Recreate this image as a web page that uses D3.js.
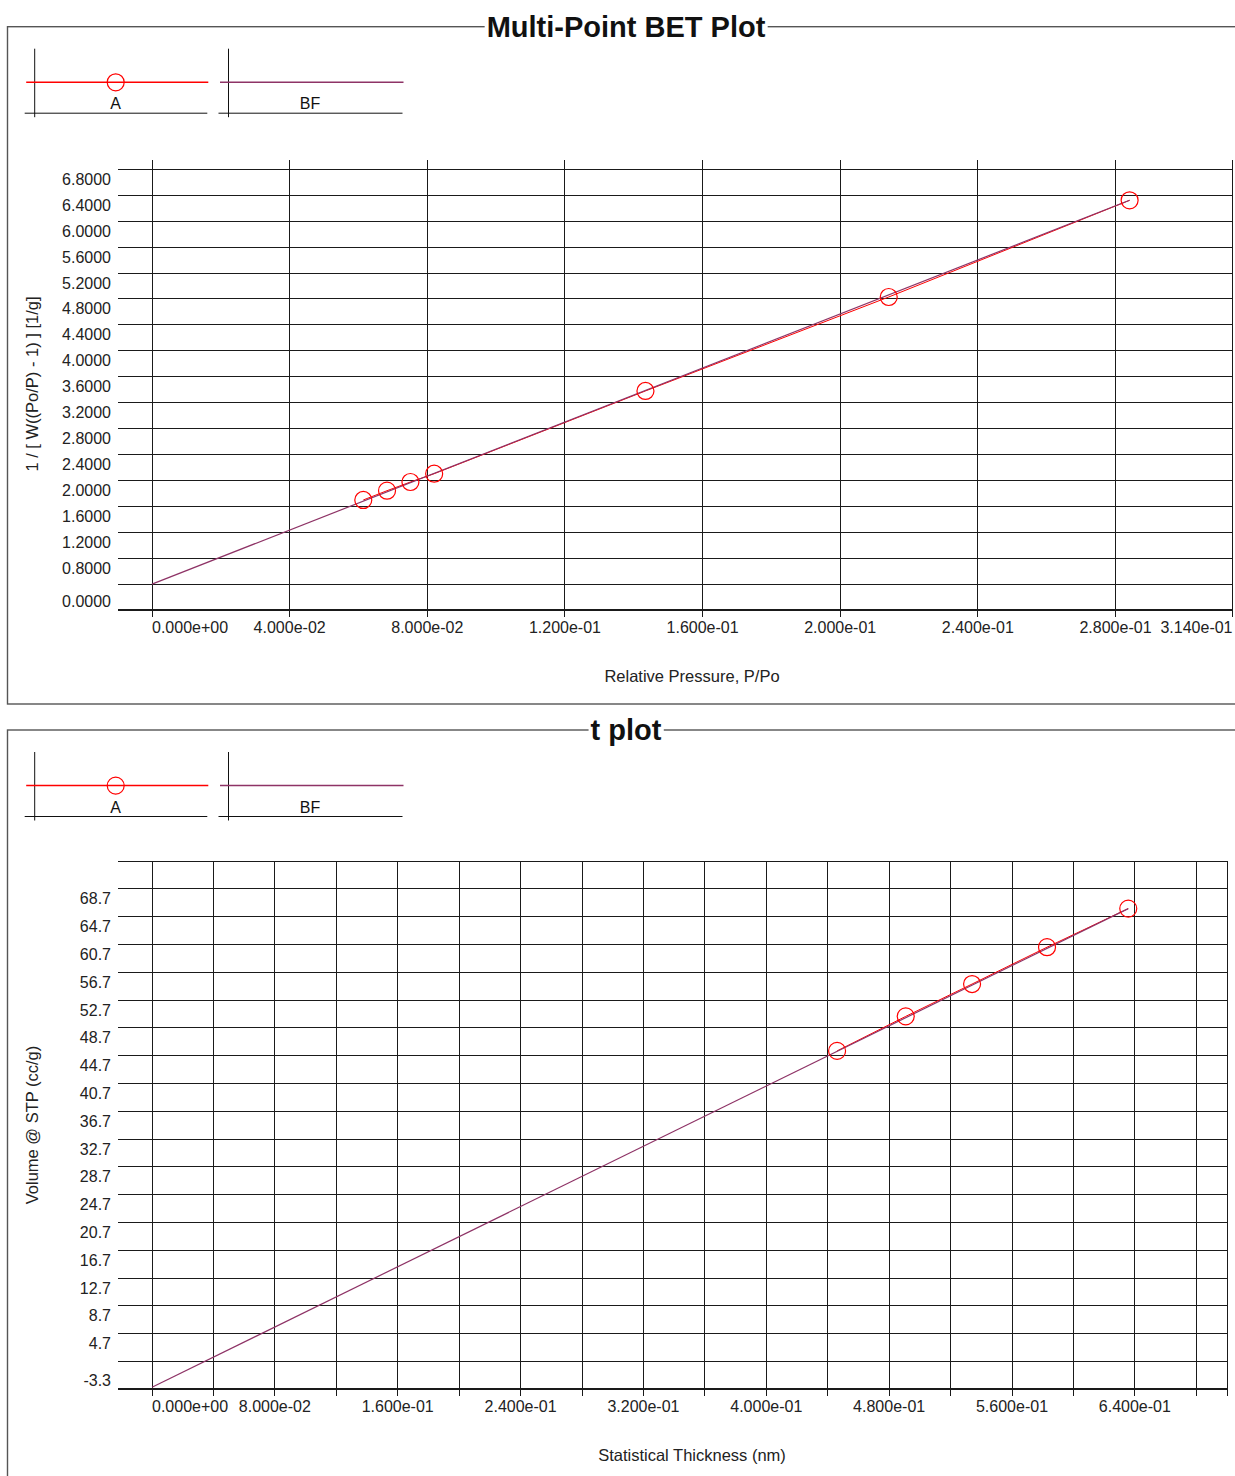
<!DOCTYPE html>
<html>
<head>
<meta charset="utf-8">
<script src="https://cdn.jsdelivr.net/npm/d3@7"></script>
<style>
  html, body { margin: 0; padding: 0; background: #fff; }
  svg { display: block; font-family: "Liberation Sans", Arial, sans-serif; }
</style>
</head>
<body>
<svg id="chart" width="1235" height="1476"></svg>
<script>
// ---- Multi-Point BET data ----
const betPressure  = [0.0614, 0.0683, 0.0751, 0.0820, 0.1434, 0.2141, 0.2841];
const betTransform = [1.698, 1.841, 1.975, 2.103, 3.380, 4.830, 6.322];
const betFitPressure  = [0, 0.2841];
const betFitTransform = [0.400, 6.322];
const betXTicks  = [0, 0.04, 0.08, 0.12, 0.16, 0.20, 0.24, 0.28, 0.314];
const betYGrid   = [0.4, 0.8, 1.2, 1.6, 2.0, 2.4, 2.8, 3.2, 3.6, 4.0, 4.4, 4.8, 5.2, 5.6, 6.0, 6.4, 6.8];
const betYLabels = [0, 0.8, 1.2, 1.6, 2.0, 2.4, 2.8, 3.2, 3.6, 4.0, 4.4, 4.8, 5.2, 5.6, 6.0, 6.4, 6.8];

// ---- t plot data ----
const tThickness = [0.4461, 0.4908, 0.5340, 0.5828, 0.6357];
const tVolume    = [45.38, 50.35, 55.00, 60.30, 65.85];
const tFitThickness = [0, 0.6357];
const tFitVolume    = [-3.0, 65.85];
const tXGrid   = [0, 0.04, 0.08, 0.12, 0.16, 0.20, 0.24, 0.28, 0.32, 0.36, 0.40, 0.44, 0.48, 0.52, 0.56, 0.60, 0.64, 0.68];
const tXLabels = [0, 0.08, 0.16, 0.24, 0.32, 0.40, 0.48, 0.56, 0.64];
const tYGrid   = [0.7, 4.7, 8.7, 12.7, 16.7, 20.7, 24.7, 28.7, 32.7, 36.7, 40.7, 44.7, 48.7, 52.7, 56.7, 60.7, 64.7, 68.7, 72.7];
const tYLabels = [-3.3, 4.7, 8.7, 12.7, 16.7, 20.7, 24.7, 28.7, 32.7, 36.7, 40.7, 44.7, 48.7, 52.7, 56.7, 60.7, 64.7, 68.7];

const legendNames = ["A", "BF"];

const RED = "#ff0000";
const FIT = "#8e3366";
const GRID = "#1a1a1a";

// scientific format with two-digit exponent, e.g. 2.800e-01
function sci(v) {
  const parts = v.toExponential(3).split("e");
  const n = +parts[1];
  return parts[0] + "e" + (n < 0 ? "-" : "+") + String(Math.abs(n)).padStart(2, "0");
}
// fixed decimals with a plain hyphen for negatives
const fixed = digits => v => v.toFixed(digits);

const svg = d3.select("#chart");

function panel(cfg) {
  const g = svg.append("g");
  const x = d3.scaleLinear().domain(cfg.xDomain).range([cfg.left, cfg.right]);
  const y = d3.scaleLinear().domain(cfg.yDomain).range([cfg.bottom, cfg.top]);

  // group frame
  g.append("rect")
    .attr("x", 7.5).attr("y", cfg.frameTop)
    .attr("width", 1260).attr("height", cfg.frameHeight)
    .attr("fill", "none").attr("stroke", "#555").attr("stroke-width", 1.4);

  // title breaking the frame line
  const title = g.append("text")
    .attr("x", 626).attr("y", cfg.frameTop + 10)
    .attr("text-anchor", "middle")
    .attr("font-size", 29).attr("font-weight", "bold").attr("fill", "#111")
    .text(cfg.title);
  const bb = title.node().getBBox();
  g.insert("rect", "text")
    .attr("x", bb.x - 2).attr("y", cfg.frameTop - 4)
    .attr("width", bb.width + 4).attr("height", 8)
    .attr("fill", "#fff");

  // legend
  const ly = cfg.frameTop + 55.6;
  const items = [
    { x0: 24.7, x1: 207.3, vx: 34.7, cx: 115.7, color: RED, marker: true },
    { x0: 218.5, x1: 402.5, vx: 228.5, cx: 310, color: FIT, marker: false }
  ];
  items.forEach((it, i) => {
    g.append("line").attr("x1", it.vx).attr("x2", it.vx)
      .attr("y1", cfg.frameTop + 22).attr("y2", cfg.frameTop + 90.5)
      .attr("stroke", "#111").attr("stroke-width", 1);
    g.append("line").attr("x1", it.x0).attr("x2", it.x1)
      .attr("y1", cfg.frameTop + 86.5).attr("y2", cfg.frameTop + 86.5)
      .attr("stroke", "#111").attr("stroke-width", 1);
    g.append("line").attr("x1", it.x0 + 1.5).attr("x2", it.x1 + 1)
      .attr("y1", ly).attr("y2", ly)
      .attr("stroke", it.color).attr("stroke-width", 1.5);
    if (it.marker) {
      g.append("circle").attr("cx", it.cx).attr("cy", ly).attr("r", 8.5)
        .attr("fill", "none").attr("stroke", RED).attr("stroke-width", 1.2);
    }
    g.append("text").attr("x", it.cx).attr("y", cfg.frameTop + 82.5)
      .attr("text-anchor", "middle").attr("font-size", 16).attr("fill", "#111")
      .text(legendNames[i]);
  });

  // horizontal grid lines (extend left of the plot as ticks)
  const grid = g.append("g").attr("shape-rendering", "crispEdges");
  grid.selectAll("line.h").data(cfg.yGrid).join("line")
    .attr("x1", 117.5).attr("x2", cfg.right)
    .attr("y1", d => y(d)).attr("y2", d => y(d))
    .attr("stroke", GRID).attr("stroke-width", 1);
  // bottom axis line
  grid.append("line")
    .attr("x1", 117.5).attr("x2", cfg.right)
    .attr("y1", cfg.bottom).attr("y2", cfg.bottom)
    .attr("stroke", GRID).attr("stroke-width", cfg.axisWidth);
  // vertical grid lines with ticks under the axis
  grid.selectAll("line.v").data(cfg.xGrid).join("line")
    .attr("x1", d => x(d)).attr("x2", d => x(d))
    .attr("y1", cfg.top).attr("y2", cfg.bottom + 7)
    .attr("stroke", GRID).attr("stroke-width", 1);
  // right edge
  grid.append("line")
    .attr("x1", cfg.right).attr("x2", cfg.right)
    .attr("y1", cfg.top).attr("y2", cfg.bottom + 7)
    .attr("stroke", GRID).attr("stroke-width", 1);

  // y tick labels
  g.selectAll("text.yl").data(cfg.yLabels).join("text")
    .attr("x", 111).attr("text-anchor", "end")
    .attr("y", (d, i) => i === 0 ? y(d) - 3 : y(d) + 15.5)
    .attr("font-size", 16).attr("fill", "#222")
    .text(cfg.yFormat);

  // x tick labels
  g.selectAll("text.xl").data(cfg.xLabels).join("text")
    .attr("x", d => x(d))
    .attr("y", cfg.bottom + 23)
    .attr("text-anchor", (d, i) => i === 0 ? "start" : (d === cfg.xDomain[1] ? "end" : "middle"))
    .attr("font-size", 16).attr("fill", "#222")
    .text(sci);

  // axis titles
  g.append("text")
    .attr("x", 692).attr("y", cfg.bottom + 72)
    .attr("text-anchor", "middle").attr("font-size", 16.5).attr("fill", "#222")
    .text(cfg.xTitle);
  g.append("text")
    .attr("transform", `translate(38,${cfg.yTitleCenter}) rotate(-90)`)
    .attr("text-anchor", "middle").attr("font-size", 16.5).attr("fill", "#222")
    .text(cfg.yTitle);

  // measured series: line through points plus open circles
  const pts = cfg.xs.map((v, i) => [v, cfg.ys[i]]);
  const line = d3.line().x(d => x(d[0])).y(d => y(d[1]));
  g.append("path").datum(pts).attr("d", line)
    .attr("fill", "none").attr("stroke", RED).attr("stroke-width", 1);
  // best-fit line
  const fit = cfg.fitX.map((v, i) => [v, cfg.fitY[i]]);
  g.append("path").datum(fit).attr("d", line)
    .attr("fill", "none").attr("stroke", FIT).attr("stroke-width", 1.2);
  g.selectAll("circle.pt").data(pts).join("circle")
    .attr("cx", d => x(d[0])).attr("cy", d => y(d[1])).attr("r", 8.5)
    .attr("fill", "none").attr("stroke", RED).attr("stroke-width", 1.2);
}

panel({
  title: "Multi-Point BET Plot",
  frameTop: 26.7, frameHeight: 677.3,
  left: 152, right: 1232.5, top: 160, bottom: 610, axisWidth: 1.2,
  xDomain: [0, 0.314], yDomain: [0, 6.944],
  xGrid: betXTicks.slice(0, -1), xLabels: betXTicks,
  yGrid: betYGrid, yLabels: betYLabels, yFormat: fixed(4),
  xs: betPressure, ys: betTransform, fitX: betFitPressure, fitY: betFitTransform,
  xTitle: "Relative Pressure, P/Po",
  yTitle: "1 / [ W((Po/P) - 1) ] [1/g]", yTitleCenter: 384
});

panel({
  title: "t plot",
  frameTop: 730, frameHeight: 800,
  left: 152, right: 1227, top: 861, bottom: 1389.3, axisWidth: 2,
  xDomain: [0, 0.70], yDomain: [-3.3, 72.7],
  xGrid: tXGrid, xLabels: tXLabels,
  yGrid: tYGrid, yLabels: tYLabels, yFormat: fixed(1),
  xs: tThickness, ys: tVolume, fitX: tFitThickness, fitY: tFitVolume,
  xTitle: "Statistical Thickness (nm)",
  yTitle: "Volume @ STP (cc/g)", yTitleCenter: 1125
});
</script>
</body>
</html>
